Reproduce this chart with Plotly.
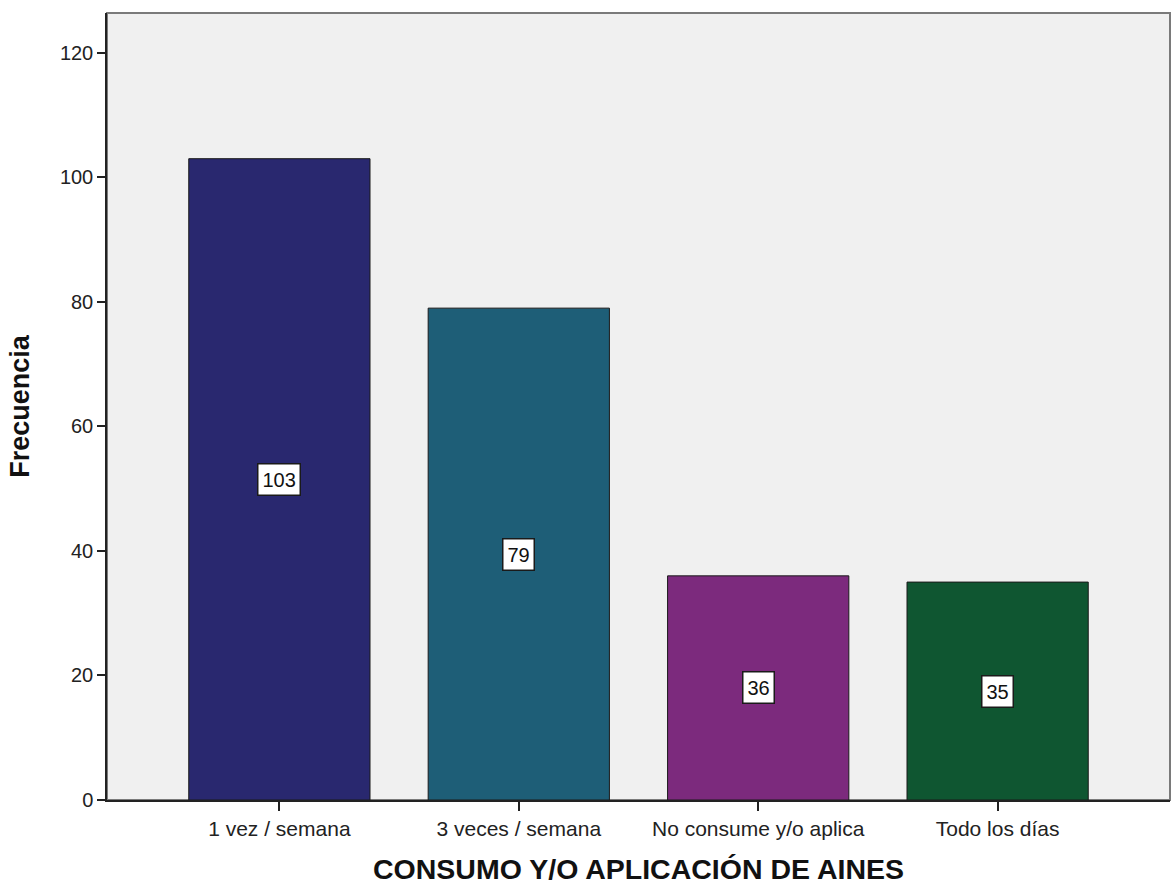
import plotly.graph_objects as go

categories = ["1 vez / semana", "3 veces / semana", "No consume y/o aplica", "Todo los días"]
frequencies = [103, 79, 36, 35]
bar_colors = ["#29286f", "#1e5e77", "#7c2a7d", "#0f5631"]

y_ticks = [0, 20, 40, 60, 80, 100, 120]

FONT = "Liberation Sans, Arial, sans-serif"

fig = go.Figure()
fig.add_trace(go.Bar(
    x=categories,
    y=frequencies,
    marker=dict(color=bar_colors, line=dict(color="#1a1a1a", width=1)),
    width=0.757,
    hoverinfo="x+y",
))

# value labels in boxes at the middle of each bar
for cat, val in zip(categories, frequencies):
    fig.add_annotation(
        x=cat, y=val / 2, text=str(val), showarrow=False,
        font=dict(family=FONT, size=20, color="#111111"),
        bgcolor="white", bordercolor="#1a1a1a", borderwidth=1.5, borderpad=4,
    )

# frame around the plotting area (top and right in grey)
fig.add_shape(type="rect", xref="paper", yref="paper", x0=0, y0=0, x1=1, y1=1,
              line=dict(color="#7a7a7a", width=2), layer="below")

fig.update_layout(
    width=1176, height=885,
    margin=dict(l=107, r=6, t=13, b=85),
    paper_bgcolor="white",
    plot_bgcolor="#f0f0f0",
    showlegend=False,
    font=dict(family=FONT, color="#111111"),
    xaxis=dict(
        range=[-0.72, 3.72],
        automargin=False,
        showline=True, linecolor="#222222", linewidth=1.5,
        ticks="outside", ticklen=9, tickcolor="#222222", tickwidth=1.5,
        tickfont=dict(family=FONT, size=21, color="#222222"),
        showgrid=False, zeroline=False,
        title=dict(text="<b>CONSUMO Y/O APLICACIÓN DE AINES</b>",
                   font=dict(family=FONT, size=28.5, color="#111111"), standoff=26),
    ),
    yaxis=dict(
        range=[0, 126.4],
        tickvals=y_ticks,
        automargin=False,
        showline=True, linecolor="#222222", linewidth=1.5,
        ticks="outside", ticklen=8, tickcolor="#222222", tickwidth=1.5,
        tickfont=dict(family=FONT, size=20, color="#222222"),
        showgrid=False, zeroline=False,
        title=dict(text="<b>Frecuencia</b>",
                   font=dict(family=FONT, size=27, color="#111111"), standoff=22),
    ),
)

fig.write_html("out.html")
